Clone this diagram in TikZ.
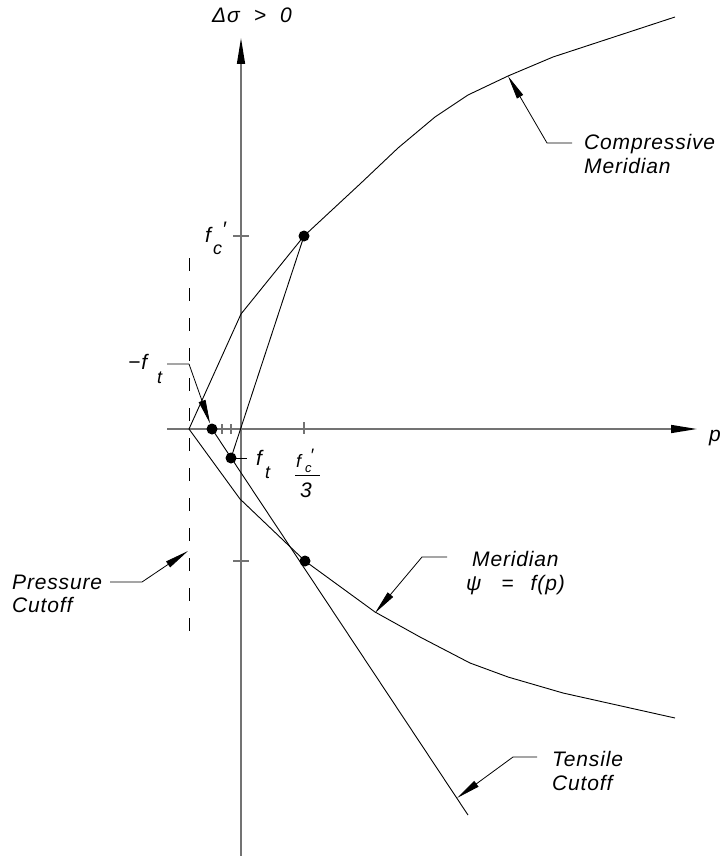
\documentclass[tikz,border=0pt]{standalone}
\usepackage{fontspec}
\setmainfont{Liberation Sans}[LetterSpace=4]
\usetikzlibrary{arrows.meta}
\definecolor{axisgray}{RGB}{115,115,115}
\begin{document}
\begin{tikzpicture}[x=1pt,y=-1pt,
  lbl/.style={anchor=base west,inner sep=0pt,font=\fontsize{21}{24}\selectfont\itshape},
  sub/.style={anchor=base west,inner sep=0pt,font=\fontsize{18}{20}\selectfont\itshape},
  axis/.style={draw=axisgray,line width=1.4pt,-{Triangle[length=26pt,width=8pt,color=black,fill=black]}},
  curve/.style={draw=black,line width=0.9pt,line join=round},
  leader/.style={draw=black,line width=0.8pt,line join=round,-{Triangle[length=24pt,width=7pt,color=black,fill=black]}},
  tickmark/.style={draw=axisgray,line width=1.2pt},
  dot/.style={circle,fill=black,inner sep=0pt,minimum size=11pt}]
\useasboundingbox (0,0) rectangle (727,856);
% axes
\draw[axis] (241,856) -- (241,38);
\draw[axis] (167,429) -- (697,429);
% ticks
\draw[tickmark] (222,424)--(222,434) (231,424)--(231,434) (304,422)--(304,434);
\draw[tickmark] (233,236)--(249,236) (233,561)--(249,561);
% pressure cutoff (dashed)
\draw[black,line width=1pt,dash pattern=on 13pt off 17pt] (189,258)--(189,643);
% points
\coordinate (A) at (189,429);
\coordinate (K) at (241,314);
\coordinate (KM) at (240,499);
\node[dot] (C) at (304,236) {};
\node[dot] (T1) at (212,429) {};
\node[dot] (T2) at (231,458) {};
\node[dot] (M) at (305,561) {};
\coordinate (TE) at (468,815);
% compressive meridian
\draw[curve] (A) -- (K) -- (C.center) -- (360,184) -- (398,148) -- (435,117) -- (468,95) -- (508,76) -- (553,57) -- (675,17);
% line from f'c to ft
\draw[curve] (C.center) -- (T2.center);
% tensile cutoff
\draw[curve] (T1.center) -- (TE);
% meridian psi = f(p)
\draw[curve] (A) -- (KM) -- (M.center) -- (375,612) -- (420,637) -- (470,663) -- (508,677) -- (563,693) -- (675,718);
% ft tick
\draw[curve] (T2.center) -- (247,458);
% labels
\node[lbl] (ds) at (212,23) {Δσ\hspace{14pt}>\hspace{14pt}0};
\node[lbl] (pl) at (709,441) {p};
\node[lbl] (fcf) at (205,242) {f};
\node[lbl] (fcp) at (222,236) {′};
\node[sub] (fcc) at (213,254) {c};
\node[lbl] (mtf) at (128,369) {−f};
\node[sub] (mtt) at (157,383) {t};
\node[lbl] (ftf) at (256,465) {f};
\node[sub] (ftt) at (265,478) {t};
\node[sub] (f3f) at (296,467) {f};
\node[sub] (f3p) at (310,461) {′};
\node[font=\fontsize{13}{15}\selectfont\itshape,anchor=base west,inner sep=0pt] (f3c) at (305,472) {c};
\draw[black,line width=0.9pt] (295,475) -- (320,475);
\node[lbl] (three) at (300,497) {3};
\node[lbl] (cm1) at (584,149) {Compressive};
\node[lbl] (cm2) at (584,173) {Meridian};
\node[lbl] (me1) at (472,566) {Meridian};
\node[lbl] (me2) at (466,590) {ψ\hspace{20pt}=\hspace{17pt}f(p)};
\node[lbl] (te1) at (552,766) {Tensile};
\node[lbl] (te2) at (552,790) {Cutoff};
\node[lbl] (pc1) at (12,589) {Pressure};
\node[lbl] (pc2) at (12,612) {Cutoff};
% leaders
\coordinate (cmA) at (572,143); \coordinate (cmB) at (547,143); \coordinate (cmT) at (508,76);
\draw[leader] (cmA) -- (cmB) -- (cmT);
\coordinate (meA) at (447,557); \coordinate (meB) at (422,557); \coordinate (meT) at (375,613);
\draw[leader] (meA) -- (meB) -- (meT);
\coordinate (teA) at (537,757); \coordinate (teB) at (513,757); \coordinate (teT) at (457,798);
\draw[leader] (teA) -- (teB) -- (teT);
\coordinate (pcA) at (110,582); \coordinate (pcB) at (142,582); \coordinate (pcT) at (188,551);
\draw[leader] (pcA) -- (pcB) -- (pcT);
\coordinate (ftA) at (167,364); \coordinate (ftB) at (189,364);
\draw[leader] (ftA) -- (ftB) -- (T1);
\end{tikzpicture}
\end{document}
